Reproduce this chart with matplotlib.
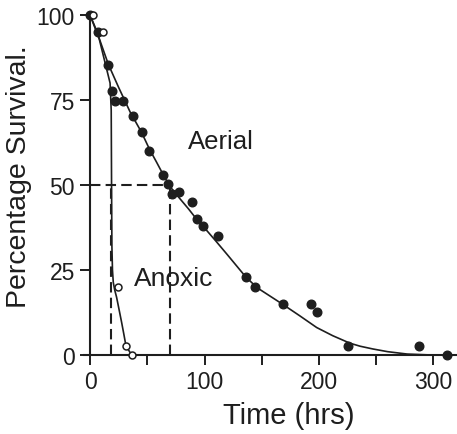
import matplotlib.pyplot as plt

# Aerial exposure (filled circles)
aerial_t = [0, 7, 16, 18.8, 21.5, 29, 37.7, 45, 51.6, 64, 68.4, 71.3, 77.7, 88.8,
            93.7, 99, 111.5, 136, 144, 168.5, 193, 198.5, 225.5, 287.5, 312]
aerial_y = [100, 95, 85.3, 77.6, 74.8, 74.8, 70.4, 65.5, 60.1, 52.9, 50.3, 47.5, 48, 45,
            40, 38, 34.9, 23, 20, 15, 15, 12.8, 2.7, 2.8, 0]

# Anoxic exposure (open circles)
anoxic_t = [3, 11, 24, 31.4, 36.4]
anoxic_y = [100, 95, 20, 2.6, 0]

# fitted curves
aerial_fit_t = [0, 5, 16, 25, 35, 45, 52, 58, 64, 70, 78, 86, 93, 100, 110, 120, 136,
                146, 157, 168, 183, 198, 212, 227, 236, 247, 260, 277, 300]
aerial_fit_y = [100, 96, 85.5, 78.7, 71.5, 65.5, 60.5, 56.8, 53, 49.5, 46.2, 43, 40, 37.4,
                33.5, 29.5, 23, 19.8, 17.4, 15, 11.6, 8.1, 5.7, 3.5, 2.6, 1.8, 1.0, 0.3, 0]
anoxic_fit_t = [0, 8, 17.5, 18.5, 18.8, 19.1, 19.6, 20.3, 21.5, 23.2, 25, 27.6, 29.5, 31.4, 36.4]
anoxic_fit_y = [100, 93, 80, 72, 50, 32, 25, 21.4, 19.2, 17, 14, 9.6, 6.2, 2.7, 0]

# time to 50% survival
lt50_aerial = 70
lt50_anoxic = 18

ink = '#1e1e1e'
plt.rcParams['font.family'] = ['Liberation Sans', 'DejaVu Sans']

fig = plt.figure(figsize=(4.57, 4.35), dpi=100)
ax = fig.add_axes([0.1845, 0.158, 0.814, 0.8286])

ax.plot(aerial_fit_t, aerial_fit_y, color=ink, lw=1.2)
ax.plot(anoxic_fit_t, anoxic_fit_y, color=ink, lw=1.2)

# dashed LT50 guides
dash = (0, (5, 2.5))
ax.plot([0, lt50_aerial], [50, 50], color=ink, lw=1.5, ls=dash)
ax.plot([lt50_aerial, lt50_aerial], [0, 50], color=ink, lw=1.5, ls=dash)
ax.plot([lt50_anoxic, lt50_anoxic], [0, 50], color=ink, lw=1.5, ls=dash)

ax.plot(aerial_t, aerial_y, 'o', color=ink, ms=6.2, clip_on=False, zorder=4)
ax.plot(anoxic_t, anoxic_y, 'o', mfc='white', mec=ink, mew=1.1, ms=5,
        clip_on=False, zorder=5)

ax.text(114, 63, 'Aerial', fontsize=18.5, color=ink, ha='center', va='center')
ax.text(73.4, 22.6, 'Anoxic', fontsize=19, color=ink, ha='center', va='center')

ax.set_xlim(-5, 320)
ax.set_ylim(-3, 103)
ax.spines['top'].set_visible(False)
ax.spines['right'].set_visible(False)
ax.spines['left'].set_position(('data', 0))
ax.spines['bottom'].set_position(('data', 0))
ax.spines['left'].set_bounds(0, 100)
for s in ('left', 'bottom'):
    ax.spines[s].set_linewidth(1.5)
    ax.spines[s].set_color(ink)

ax.set_xticks([0, 100, 200, 300])
ax.set_xticks([50, 150, 250], minor=True)
ax.set_yticks([0, 25, 50, 75, 100])
ax.tick_params(axis='both', which='both', direction='out', length=7, width=1.4,
               color=ink, labelcolor=ink, labelsize=16.5, pad=4)

ax.set_xlabel('Time (hrs)', fontsize=21, color=ink)
ax.xaxis.set_label_coords(0.55, -0.1)
ax.set_ylabel('Percentage Survival.', fontsize=20.5, color=ink)
ax.yaxis.set_label_coords(-0.14, 0.526)

plt.savefig('out.png', dpi=100)
